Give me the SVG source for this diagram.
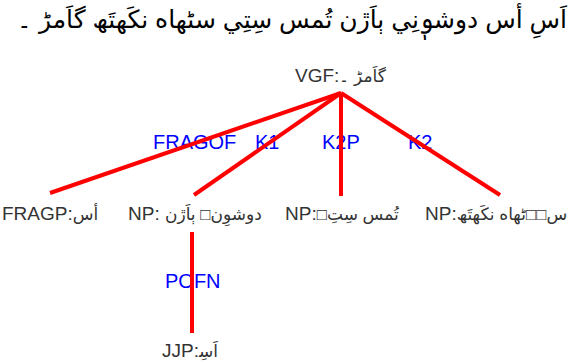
<svg xmlns="http://www.w3.org/2000/svg" width="579" height="363" viewBox="0 0 579 363">
<style>
text{font-family:"Liberation Sans","DejaVu Sans",sans-serif}
.title{font-size:25px;fill:#000}
.node{font-size:19px;fill:#333}
.ar{font-size:17px}
.elab{font-size:20px;fill:#0000ff}
.edge{stroke:#ff0000;stroke-width:4;fill:none;stroke-linecap:butt}
</style>
<rect width="579" height="363" fill="#ffffff"/>
<text class="title" x="292" y="28" text-anchor="middle" direction="rtl">اَسِ أس دوشوٖنِي ٻاَڙن تُمس سِتِي سٹھاه نکَھتَھ گاَمڑ ۔</text>
<g id="edge-labels">
<text class="elab" x="153" y="149">FRAGOF</text>
<text class="elab" x="255" y="149">K1</text>
<text class="elab" x="322" y="149">K2P</text>
<text class="elab" x="408" y="149">K2</text>
<text class="elab" x="165" y="288">POFN</text>
</g>
<g id="connectors">
<line class="edge" x1="341" y1="93" x2="50" y2="193"/>
<line class="edge" x1="341" y1="93" x2="194" y2="195"/>
<line class="edge" x1="341" y1="93" x2="341" y2="196"/>
<line class="edge" x1="341" y1="93" x2="500" y2="195"/>
<line class="edge" x1="192" y1="232" x2="192" y2="333"/>
</g>
<g id="node-vgf"><text class="node" x="295" y="82">VGF:<tspan class="ar">گاَمڑ ۔</tspan></text></g>
<g id="node-fragp"><text class="node" x="2" y="220">FRAGP:<tspan class="ar">أس</tspan></text></g>
<g id="node-np1"><text class="node" x="128" y="220">NP: <tspan class="ar">دوشوِن□ ٻاَڙن</tspan></text></g>
<g id="node-np2"><text class="node" x="285" y="220">NP:<tspan class="ar">تُمس سِتِ□&#x200F;</tspan></text></g>
<g id="node-np3"><text class="node" x="425" y="220">NP:<tspan class="ar">س□□ٹھاه نکَھتَھ</tspan></text></g>
<g id="node-jjp"><text class="node" x="162" y="357">JJP:<tspan class="ar">اَسِ‍</tspan></text></g>
</svg>
